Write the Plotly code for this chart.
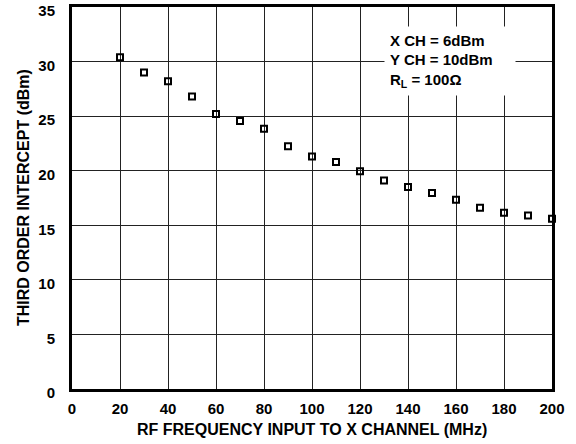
import plotly.graph_objects as go

freq_mhz = [20, 30, 40, 50, 60, 70, 80, 90, 100, 110, 120, 130, 140, 150, 160, 170, 180, 190, 200]
intercept_dbm = [30.4, 29.0, 28.2, 26.8, 25.2, 24.55, 23.85, 22.25, 21.3, 20.8, 19.95, 19.1, 18.5,
                 17.95, 17.35, 16.6, 16.15, 15.9, 15.6]

x_ticks = [0, 20, 40, 60, 80, 100, 120, 140, 160, 180, 200]
y_ticks = [0, 5, 10, 15, 20, 25, 30, 35]

FONT = "Liberation Sans, Arial, Helvetica, sans-serif"

fig = go.Figure(go.Scatter(
    x=freq_mhz, y=intercept_dbm, mode="markers",
    marker=dict(symbol="square-open", size=6, color="black", line=dict(width=2, color="black")),
    showlegend=False, cliponaxis=False,
))

axis_common = dict(
    showline=True, linecolor="black", linewidth=3, mirror=True,
    showgrid=True, gridcolor="#222222", gridwidth=1.3,
    zeroline=False, ticks="", automargin=False, ticklabeloverflow="allow",
    tickfont=dict(family=FONT, size=15, color="black"),
)

fig.update_xaxes(
    range=[0, 200], tickvals=x_ticks, ticktext=[f"<b>{t}</b>" for t in x_ticks],
    ticklabelstandoff=4, **axis_common,
)
fig.update_yaxes(
    range=[0, 35], tickvals=y_ticks, ticktext=[f"<b>{t}</b>" for t in y_ticks],
    ticklabelstandoff=11, ticklabelshift=4, **axis_common,
)

# axis titles
fig.add_annotation(
    x=0.5, y=-0.107, xref="paper", yref="paper", xanchor="center", yanchor="middle",
    text="<b>RF FREQUENCY INPUT TO X CHANNEL (MHz)</b>", showarrow=False,
    font=dict(family=FONT, size=16, color="black"),
)
fig.add_annotation(
    x=-0.102, y=0.5, xref="paper", yref="paper", xanchor="center", yanchor="middle",
    text="<b>THIRD ORDER INTERCEPT (dBm)</b>", showarrow=False, textangle=-90,
    font=dict(family=FONT, size=16, color="black"),
)

# conditions box
fig.add_annotation(
    x=130, y=33.3, xref="x", yref="y", xanchor="left", yanchor="top",
    text="<b>X CH = 6dBm<br>Y CH = 10dBm<br>R<sub>L</sub> = 100Ω</b>",
    align="left", showarrow=False, bgcolor="white", borderpad=5,
    width=120, height=58,
    font=dict(family=FONT, size=15, color="black"),
)

fig.update_layout(
    width=576, height=444,
    paper_bgcolor="white", plot_bgcolor="white",
    margin=dict(l=72, r=24, t=7, b=55),
)

fig.write_html("out.html", config={"displayModeBar": False},
               post_script="document.body.style.margin='0';")
